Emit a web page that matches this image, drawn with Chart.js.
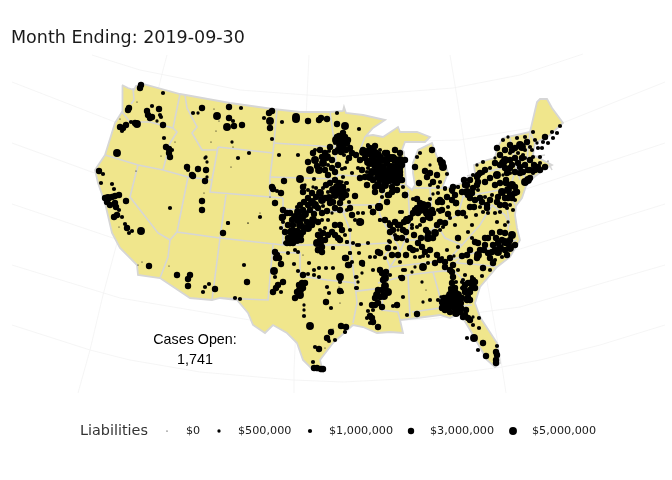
<!DOCTYPE html>
<html lang="en">

<head>
    <meta charset="UTF-8">
    <title>Month Ending: 2019-09-30</title>
    <script src="https://cdn.jsdelivr.net/npm/chart.js"></script>
    <style>
        html,
        body {
            margin: 0;
            padding: 0;
            background-color: #ffffff;
        }

        canvas {
            display: block;
        }
    </style>
</head>

<body>
    <canvas id="map" width="672" height="480"></canvas>

    <script>
        const titleText = 'Month Ending: 2019-09-30';
        const casesLabel = 'Cases Open:';
        const casesValue = '1,741';
        const legendTitle = 'Liabilities';
        const legendLabels = ['$0', '$500,000', '$1,000,000', '$3,000,000', '$5,000,000'];
        const legendValues = [0, 0.5, 1, 3, 5]; // $ millions

        // map units are projected x / y, y growing south
        const usOutline = [[122,85],[128,88],[134,90],[136,86],[143,84],[180,94],[230,103],[273,109],[300,112],[330,112],[343,111],[344,107],[346,113],[363,115],[385,120],[373,128],[366,136],[373,135],[383,137],[398,127],[400,132],[417,132],[430,137],[425,142],[405,142],[402,150],[404,152],[405,168],[406,185],[412,190],[415,185],[413,173],[413,163],[418,150],[432,143],[437,157],[445,163],[448,173],[442,188],[447,188],[463,183],[475,173],[474,165],[487,160],[495,158],[497,148],[503,138],[530,132],[537,102],[540,99],[547,99],[552,108],[563,123],[550,135],[535,143],[533,155],[552,165],[543,170],[527,183],[522,198],[516,206],[515,215],[517,228],[520,240],[510,257],[497,267],[480,287],[475,303],[480,317],[497,343],[500,363],[495,367],[487,360],[473,335],[460,313],[450,318],[440,315],[417,318],[400,320],[403,333],[390,332],[377,333],[363,327],[353,325],[333,343],[320,360],[323,372],[313,370],[303,360],[297,343],[287,333],[273,325],[265,333],[253,325],[248,313],[237,300],[220,298],[212,300],[190,298],[160,278],[138,275],[137,265],[120,248],[112,233],[105,203],[98,183],[95,170],[105,155],[115,123],[122,112],[123,98],[122,85]];

        const stateBorders = [
            [[122,112],[130,122],[150,122],[173,128]],
            [[180,94],[173,128],[177,132],[170,143],[163,170]],
            [[105,155],[138,165],[163,170],[188,177],[205,179],[212,180]],
            [[185,95],[187,108],[197,127],[192,133],[202,150],[218,150]],
            [[218,147],[273,153]],
            [[218,147],[212,180],[210,192],[270,197],[283,198]],
            [[188,177],[177,232],[220,238],[283,245],[350,245],[388,243]],
            [[226,195],[220,238],[212,300]],
            [[138,165],[130,197],[158,233],[170,240],[168,257],[162,273],[160,278]],
            [[177,232],[170,240]],
            [[277,109],[273,153],[270,177],[270,197]],
            [[273,143],[335,147]],
            [[270,177],[337,179]],
            [[283,198],[283,245]],
            [[283,209],[345,212],[340,205],[378,205]],
            [[273,245],[268,300],[220,298]],
            [[273,252],[300,253],[300,275],[307,277],[327,280],[347,282],[355,283],[357,303],[353,323]],
            [[350,245],[355,283],[357,291],[383,288],[382,310],[398,312],[400,320]],
            [[388,243],[390,250],[385,255],[390,267],[385,283],[383,288]],
            [[330,112],[335,147],[337,179],[340,205],[350,230],[350,245]],
            [[337,175],[378,177]],
            [[365,137],[360,150],[368,160],[378,177],[385,190],[378,205],[380,215],[385,225],[398,245],[400,252],[390,267]],
            [[382,183],[405,185]],
            [[408,190],[410,223],[405,240],[400,252]],
            [[413,188],[442,188]],
            [[430,188],[432,217]],
            [[405,240],[420,240],[437,225],[445,238],[462,245],[480,225],[492,205],[505,215],[510,225]],
            [[437,225],[458,215],[463,197],[463,183]],
            [[463,197],[510,188],[515,205]],
            [[467,176],[517,165],[527,180]],
            [[517,165],[510,188]],
            [[390,267],[433,262],[447,261],[517,240]],
            [[447,261],[462,245]],
            [[378,283],[408,275],[433,272],[453,270],[447,271],[470,250]],
            [[408,275],[410,317]],
            [[412,312],[440,308],[472,305]],
            [[433,272],[440,297],[440,308]],
            [[453,270],[472,288],[480,287]],
            [[457,263],[483,265],[497,267]],
            [[470,196],[490,210],[492,205]],
            [[510,138],[515,160],[517,170],[520,180]],
            [[530,132],[528,148],[527,162]],
            [[515,160],[545,155]],
            [[517,170],[540,167]],
            [[530,132],[535,143]],
            [[133,88],[134,100],[131,104]],
            [[507,208],[509,220],[508,230]],
            [[522,182],[535,175]],
            [[548,162],[552,170]]
        ];

        const parallels = [
            [[92,55],[140,70],[240,90],[307,95],[335,97],[453,88],[520,75],[583,54]],
            [[12,82],[115,122],[210,138],[335,143],[460,140],[565,122],[665,82]],
            [[12,143],[100,175],[210,196],[335,203],[430,200],[523,190],[665,143]],
            [[12,204],[113,238],[210,256],[335,262],[430,262],[520,249],[665,204]],
            [[12,265],[120,298],[250,320],[340,323],[430,319],[520,307],[665,265]],
            [[12,325],[90,350],[130,360],[200,372],[293,380],[343,382],[420,378],[502,367],[540,360],[600,345],[665,325]]
        ];

        const meridians = [
            [[78,393],[90,350],[103,295],[117,243],[150,115],[158,90],[163,70],[167,55]],
            [[294,393],[294,370],[300,240],[307,97],[309,55]],
            [[506,393],[502,367],[488,287],[468,168],[455,85],[450,55]]
        ];

        // [x, y, liabilities in $ millions]
        const westCases = [[141,85,3],[140,88,3],[163,93,1],[129,108,3],[128,110,3],[152,106,1],[159,109,3],[147,111,3],[148,115,3],[152,117,3],[150,118,3],[160,115,1],[161,117,1],[157,121,0.5],[137,102,0],[120,119,0],[120,127,3],[123,128,3],[122,131,1],[126,125,3],[131,122,1],[137,124,5],[135,123,3],[163,125,3],[164,138,1],[175,142,0],[166,147,3],[169,149,3],[172,150,1],[169,153,3],[170,157,3],[161,156,0],[117,153,5],[136,171,0],[99,171,3],[103,174,1],[101,183,1],[112,184,1],[114,189,1],[119,195,3],[105,198,3],[108,198,5],[112,197,3],[115,196,3],[107,202,3],[126,201,3],[110,205,3],[115,203,3],[116,207,3],[119,210,1],[117,215,3],[114,217,3],[122,217,1],[119,227,0],[125,224,1],[127,228,3],[132,231,1],[129,233,1],[141,231,5],[142,262,0],[138,265,0],[149,266,3],[169,266,0],[177,275,3],[190,275,3],[188,279,3],[188,286,3],[205,287,1],[209,284,1],[203,292,1],[215,289,3],[235,298,1],[240,299,1],[244,265,1],[247,282,3],[223,233,3],[228,223,1],[248,223,0]];
        const mountainCases = [[193,113,1],[198,113,0.5],[202,108,3],[214,109,0],[229,107,3],[241,108,1],[217,116,5],[219,121,0],[229,118,3],[233,121,1],[227,127,5],[234,126,3],[242,125,3],[216,131,0],[211,142,0],[232,142,0.5],[233,147,0],[264,118,1],[269,113,3],[272,111,3],[270,121,5],[270,128,3],[272,139,1],[282,122,1],[296,117,5],[296,119,5],[308,121,3],[319,120,3],[321,118,3],[327,119,3],[279,155,1],[298,155,1],[238,158,1],[249,153,1],[231,167,0],[205,158,0.5],[206,157,0.5],[207,162,0.5],[187,167,3],[188,170,1],[198,169,3],[206,170,3],[192,175,3],[193,176,3],[207,177,0.5],[205,181,3],[204,193,0],[202,201,3],[202,210,3],[170,208,1],[260,213,0],[260,217,1],[248,223,0],[228,223,1],[272,187,3],[273,189,3],[277,191,1],[281,193,3],[275,203,3],[270,197,0],[283,210,1],[282,218,3],[283,217,3],[287,213,1],[289,213,1]];
        const plainsCases = [[320,150,3],[308,162,3],[315,160,5],[313,153,3],[325,153,3],[329,151,1],[332,160,3],[323,163,5],[327,157,5],[335,143,1],[337,137,3],[342,140,5],[345,137,3],[340,145,5],[347,143,3],[350,148,3],[341,152,3],[344,155,1],[352,153,3],[349,158,3],[347,162,1],[368,145,1],[367,152,5],[363,150,3],[372,155,5],[368,162,5],[377,163,5],[377,152,1],[385,153,3],[380,158,5],[387,160,5],[373,158,3],[393,158,5],[398,162,3],[397,168,5],[390,167,5],[383,168,5],[378,172,5],[385,175,5],[392,173,3],[397,177,3],[380,180,3],[388,180,5],[395,182,3],[373,180,3],[375,187,3],[380,187,1],[368,168,1],[367,172,1],[360,178,3],[365,177,3],[367,185,3],[358,168,1],[388,195,3],[387,202,1],[352,173,1],[342,169,1],[310,170,5],[319,170,5],[328,165,1],[332,168,3],[328,175,3],[335,180,3],[343,177,1],[342,182,0.5],[346,183,1],[300,179,5],[284,181,3],[314,179,1],[303,192,3],[305,185,0.5],[308,190,1],[320,193,5],[313,187,0.5],[323,188,1],[325,198,3],[328,192,1],[337,187,5],[338,192,5],[335,195,5],[342,197,5],[343,187,3],[347,183,1],[333,202,3],[340,203,3],[330,203,3],[308,198,3],[312,202,5],[315,205,5],[308,205,3],[318,208,3],[323,206,1],[327,211,3],[355,196,3],[349,202,1]];
        const plainsFill = [[336,140,5],[339,136,3],[343,133,3],[348,140,3],[338,150,3],[346,150,3],[335,152,3],[330,147,3],[322,157,3],[317,166,3],[315,150,1],[325,170,3],[335,172,3],[338,165,3],[345,168,1],[303,187,3],[312,193,3],[316,188,1],[326,185,3],[330,183,3],[333,190,5],[339,183,3],[343,192,5],[346,195,3],[348,190,1],[340,210,3],[335,208,3],[329,198,5],[322,200,5],[316,197,3],[304,202,3],[300,205,3],[310,210,3],[314,214,3],[305,214,5],[298,220,5],[292,220,3],[288,225,3],[285,232,3],[292,231,5],[300,235,5],[303,232,3],[308,228,5],[312,225,3],[318,222,3],[297,240,5],[290,240,3],[301,240,3],[283,222,1],[325,228,1],[318,235,3],[328,235,3],[335,235,3],[345,235,1]];
        const kansasCases = [[283,210,3],[287,213,3],[282,217,3],[290,213,3],[297,207,1],[298,212,5],[303,210,3],[295,217,5],[302,218,5],[307,222,3],[313,220,5],[300,225,5],[293,225,3],[290,232,3],[297,232,5],[295,237,5],[288,238,3],[293,243,3],[281,228,1],[285,243,1],[303,227,3],[322,213,3],[322,220,1],[328,220,1],[332,213,0.5],[320,230,1],[320,237,3],[323,233,3],[325,240,3],[320,243,5],[318,250,3],[335,225,3],[340,225,3],[342,230,3],[332,232,3],[338,238,3],[350,230,1],[347,242,1],[333,248,1],[350,208,3],[347,210,1],[352,215,3],[360,222,5],[355,220,1],[370,207,1],[373,212,3],[379,207,5],[380,220,1],[385,219,1],[389,222,1],[390,242,1],[398,230,0.5],[353,243,1],[359,245,1],[368,243,1],[378,252,3],[395,248,1],[287,243,3],[290,243,3],[293,235,5],[297,232,5],[307,228,3],[317,243,5],[322,247,3],[322,252,3],[318,250,3],[333,248,1],[340,240,3],[347,242,1],[357,245,1]];
        const lakesCases = [[337,113,1],[337,124,3],[345,126,5],[359,129,1],[340,138,3],[345,140,3],[343,147,5],[368,146,1],[363,152,5],[368,153,5],[375,152,3],[380,150,1],[387,153,3],[400,153,3],[395,160,5],[400,160,5],[380,160,5],[370,163,5],[377,168,5],[382,167,5],[387,163,3],[393,167,5],[400,168,3],[395,172,5],[380,175,5],[385,180,5],[390,180,5],[402,180,3],[397,183,3],[397,190,3],[405,195,3],[389,195,3],[387,202,3],[379,207,5],[370,207,1],[373,212,3],[402,212,1],[363,213,1],[358,213,1],[361,222,3],[380,220,1],[385,220,3],[390,225,3],[393,230,3],[398,225,3],[407,220,5],[412,228,1],[395,235,1],[403,230,3],[407,240,1],[389,241,1],[432,150,3],[420,153,1],[417,157,1],[430,165,0.5],[442,163,5],[443,167,5],[440,160,3],[415,167,3],[425,171,3],[430,173,3],[447,174,1],[437,175,3],[427,177,3],[440,182,1],[433,182,3],[419,183,3],[430,185,1],[438,187,1],[445,189,1],[453,187,3],[458,187,1],[467,192,5],[465,185,3],[452,192,1],[456,203,3],[440,200,3],[438,210,1],[423,207,5],[420,210,5],[427,213,5],[417,208,3],[413,213,3]];
        const lakesFill = [[370,148,3],[375,146,3],[372,160,5],[375,165,5],[365,158,3],[360,160,3],[356,155,3],[362,170,3],[372,172,5],[370,177,5],[378,177,5],[383,175,5],[388,172,5],[392,177,5],[385,185,5],[392,187,3],[400,172,3],[402,165,3],[405,160,3],[400,175,3],[395,150,3],[390,158,5],[385,160,5],[378,155,5],[372,150,3],[403,187,1],[382,190,3],[375,192,3],[382,197,1],[392,192,3],[378,185,5]];
        const midlandCases = [[400,180,3],[405,195,3],[417,199,3],[413,199,1],[430,199,1],[415,210,3],[423,205,5],[425,210,5],[422,208,3],[432,210,3],[407,220,5],[400,212,1],[420,225,1],[430,218,3],[423,220,3],[412,225,1],[417,227,1],[437,225,3],[445,223,3],[443,227,1],[440,230,1],[438,202,3],[442,202,3],[442,210,3],[440,212,1],[456,203,3],[433,194,0.5],[438,193,1],[452,190,3],[445,188,1],[458,187,1],[467,185,3],[467,192,3],[473,188,3],[477,185,3],[458,213,3],[463,213,3],[466,217,1],[472,225,1],[478,190,1],[470,198,3],[475,200,3],[480,198,3],[485,197,1],[492,195,1],[497,202,3],[498,197,3],[502,192,5],[508,190,5],[512,185,5],[505,198,3],[508,198,3],[487,205,3],[487,208,3],[483,212,1],[488,213,1],[495,213,1],[497,222,1],[508,222,0.5],[513,210,1],[507,208,1],[510,205,1],[515,200,1],[513,193,1],[495,185,3],[478,175,3],[483,173,1],[478,182,3],[495,175,1],[503,175,0.5]];
        const midlandFill = [[420,203,3],[418,213,3],[428,205,3],[433,213,3],[428,217,3],[410,218,3],[404,222,3],[412,215,1],[400,225,3],[395,222,3],[390,232,3],[397,238,3],[406,232,3],[414,235,3],[421,238,3],[426,230,3],[433,238,3],[440,222,3],[450,218,1],[448,207,1],[447,197,3],[455,195,3],[462,192,3],[472,193,3],[482,202,3],[490,200,3],[500,205,3],[505,205,3],[510,195,3],[515,187,3],[506,183,3],[500,183,3],[490,178,3],[485,182,3],[470,180,3],[464,180,3],[505,168,3],[512,165,3],[515,158,3],[515,148,3],[510,145,3],[522,158,3],[528,170,3],[534,165,3],[540,163,1],[525,150,1],[530,147,1],[468,195,3],[474,207,3],[480,207,1],[470,207,3],[476,215,1],[452,200,3],[448,214,3],[455,225,1],[468,232,1],[500,212,1],[505,225,1],[430,250,3],[425,252,3],[410,248,3],[406,255,3],[400,262,1],[392,255,3],[388,248,3]];
        const northeastCases = [[477,177,3],[473,175,1],[480,173,3],[497,175,5],[507,173,3],[503,163,5],[500,165,3],[495,163,3],[505,160,5],[510,160,3],[497,148,3],[503,140,1],[508,137,0.5],[517,138,1],[525,137,1],[518,153,1],[520,145,5],[522,147,5],[510,153,1],[533,132,1],[527,142,3],[523,155,1],[533,157,1],[538,148,1],[540,157,1],[537,143,0.5],[545,137,3],[553,138,1],[557,133,1],[560,126,1],[552,132,1],[543,142,1],[542,148,1],[530,160,3],[525,165,3],[520,167,3],[520,173,3],[523,172,3],[538,167,3],[545,167,3],[548,161,0],[533,173,1],[528,180,5],[525,182,5],[530,178,3],[483,162,1],[495,158,0.5],[510,173,1],[477,165,0.5],[510,185,3],[515,193,3],[517,192,3],[512,198,3],[502,192,3],[512,150,3],[505,150,3],[500,155,3],[510,168,3],[515,172,3],[525,158,1],[532,150,1],[535,140,1],[548,143,1],[530,170,3],[535,170,3],[540,170,3],[518,163,3],[506,180,3],[485,170,3],[490,168,1]];
        const southeastCases = [[458,238,3],[458,247,1],[472,238,1],[475,242,3],[478,243,3],[492,233,3],[485,238,3],[488,238,3],[512,235,5],[505,242,5],[510,248,5],[502,240,3],[495,250,3],[500,248,5],[492,252,3],[488,253,3],[478,255,5],[477,258,3],[467,255,3],[462,256,3],[495,260,1],[490,258,3],[493,263,3],[502,257,1],[463,280,1],[454,256,0.5],[447,250,1],[442,258,1],[437,255,3],[440,260,3],[418,243,3],[422,247,3],[413,250,3],[417,250,1],[428,238,5],[435,233,5],[428,233,3],[407,241,1],[402,238,3],[398,225,3],[415,257,1],[423,256,1],[428,256,1],[420,257,1],[415,267,0.5],[423,267,5],[428,263,1],[435,263,3],[445,267,3],[453,265,3],[458,270,1],[450,270,3],[453,277,3],[465,275,1],[472,277,1],[470,283,3],[475,282,3],[483,268,3],[490,270,1],[482,276,1],[465,285,3],[475,288,3],[462,288,1],[470,292,3],[402,278,3],[405,270,1],[426,290,0],[398,255,3],[505,250,3],[498,252,5],[508,243,5],[498,243,3],[493,245,3],[480,250,3],[484,250,3],[470,262,3],[452,272,3],[456,282,1],[500,232,3],[496,238,3],[505,233,3],[510,240,3],[515,245,3],[507,255,3],[485,245,3],[470,250,3],[450,258,3],[445,262,3]];
        const deltaCases = [[345,258,3],[350,253,1],[359,253,1],[348,265,3],[352,262,1],[362,263,3],[363,265,1],[373,270,1],[380,253,3],[370,257,1],[375,257,1],[385,258,1],[380,270,3],[382,273,3],[385,278,5],[390,275,1],[403,270,1],[400,277,1],[412,272,0.5],[357,277,0.5],[362,273,0.5],[356,288,1],[358,282,0.5],[340,278,3],[342,292,1],[388,292,5],[382,290,3],[377,295,5],[375,298,3],[380,297,3],[378,303,3],[382,307,3],[397,305,3],[393,306,1],[403,297,1],[373,310,1],[361,304,1],[368,311,1],[367,318,1],[372,318,3],[370,323,1],[373,322,3],[378,327,3],[343,327,1],[345,332,0.5],[407,315,1],[417,314,3],[422,282,0.5],[430,300,1],[423,302,0.5],[441,297,0.5],[384,296,5],[385,286,5],[378,290,3],[383,280,3],[386,272,3],[372,305,3],[375,305,3],[370,316,3]];
        const georgiaCases = [[455,293,5],[452,298,5],[457,300,5],[450,295,5],[447,302,5],[443,305,3],[442,308,3],[448,308,5],[445,310,3],[455,307,5],[458,307,3],[460,312,3],[463,317,3],[465,315,3],[467,300,3],[468,297,3],[470,290,3],[468,283,3],[473,280,3],[450,288,1],[455,288,3],[462,303,1],[473,317,0.5],[442,302,3],[453,277,1],[462,282,1],[479,318,1],[473,325,1],[479,328,1],[467,338,1],[474,338,5],[483,343,3],[478,350,1],[486,356,3],[497,346,1],[496,352,3],[497,355,3],[496,360,3],[496,363,3],[452,290,5],[448,298,5],[453,303,5],[458,295,5],[460,303,5],[462,298,3],[450,305,5],[446,305,5],[450,312,3],[456,313,5],[461,308,3],[466,310,3],[470,300,3],[465,292,3],[472,285,3],[464,288,3],[470,320,3],[468,318,3],[444,298,3],[438,300,1],[452,283,3]];
        const texasCases = [[277,255,3],[279,258,3],[274,271,5],[275,277,1],[281,264,3],[288,253,1],[295,250,1],[298,252,1],[294,264,1],[303,255,0],[298,271,1],[303,275,3],[308,274,1],[309,263,1],[314,270,1],[319,268,1],[319,277,1],[326,268,1],[333,268,1],[314,275,1],[346,258,3],[350,253,1],[349,265,3],[340,277,5],[340,282,1],[356,277,1],[357,288,1],[340,291,3],[339,287,0],[327,287,1],[329,293,1],[326,302,3],[331,308,1],[340,303,0],[283,282,3],[278,285,3],[276,288,3],[273,292,3],[281,292,1],[305,283,3],[302,283,3],[300,290,5],[297,292,3],[300,295,5],[304,305,0.5],[304,310,0.5],[304,316,1],[310,326,5],[331,332,3],[333,329,0],[327,338,3],[329,341,1],[335,340,1],[341,326,3],[346,327,3],[345,332,1],[315,347,1],[319,349,3],[325,348,0],[313,362,1],[314,368,3],[317,368,3],[321,369,3],[323,369,3],[299,285,3],[303,288,3],[295,298,3],[275,252,3],[276,258,3]];

        const allCases = [...westCases, ...mountainCases, ...plainsCases, ...plainsFill, ...kansasCases, ...lakesCases, ...lakesFill, ...midlandCases, ...midlandFill, ...northeastCases, ...southeastCases, ...deltaCases, ...georgiaCases, ...texasCases];

        const legendDotX = [167, 219, 310, 411, 513];
        const legendLabelX = [186, 238, 329, 430, 532];
        const legendY = 431;

        function toPoints(list) {
            return list.map(p => ({ x: p[0], y: p[1], v: p[2] }));
        }

        function sizeFor(millions) {
            return 0.6 + 1.5 * Math.sqrt(millions);
        }

        function lineSet(list, color, width, order) {
            return {
                data: toPoints(list),
                showLine: true,
                borderColor: color,
                borderWidth: width,
                pointRadius: 0,
                tension: 0,
                clip: false,
                order: order
            };
        }

        const datasets = [];
        datasets.push({
            data: toPoints(allCases),
            backgroundColor: '#000000',
            borderWidth: 0,
            pointRadius: ctx => sizeFor(ctx.raw.v),
            clip: false,
            order: 0
        });
        datasets.push({
            data: legendValues.map((v, i) => ({ x: legendDotX[i], y: legendY, v: v })),
            backgroundColor: '#000000',
            borderWidth: 0,
            pointRadius: ctx => sizeFor(ctx.raw.v),
            clip: false,
            order: 0
        });
        stateBorders.forEach(b => datasets.push(lineSet(b, '#d6d6d6', 1.6, 1)));
        datasets.push(Object.assign(lineSet(usOutline, '#d6d6d6', 1.8, 2), {
            fill: 'shape',
            backgroundColor: '#f0e68c'
        }));
        parallels.forEach(l => datasets.push(lineSet(l, '#f0f0f0', 0.7, 3)));
        meridians.forEach(l => datasets.push(lineSet(l, '#f0f0f0', 0.7, 3)));

        const textPlugin = {
            id: 'mapText',
            afterDraw(chart) {
                const { ctx, scales } = chart;
                const put = (text, x, y, font, color, align) => {
                    ctx.font = font;
                    ctx.fillStyle = color;
                    ctx.textAlign = align;
                    ctx.textBaseline = 'middle';
                    ctx.fillText(text, scales.x.getPixelForValue(x), scales.y.getPixelForValue(y));
                };
                ctx.save();
                put(titleText, 11, 38, '17.5px "DejaVu Sans"', '#1a1a1a', 'left');
                put(casesLabel, 195, 340, '14.3px "Liberation Sans"', '#000000', 'center');
                put(casesValue, 195, 360, '14.3px "Liberation Sans"', '#000000', 'center');
                put(legendTitle, 80, legendY, '14.4px "DejaVu Sans"', '#333333', 'left');
                legendLabels.forEach((t, i) => {
                    put(t, legendLabelX[i], legendY, '11.2px "DejaVu Sans"', '#1a1a1a', 'left');
                });
                ctx.restore();
            }
        };

        new Chart(document.getElementById('map'), {
            type: 'scatter',
            data: { datasets: datasets },
            plugins: [textPlugin],
            options: {
                responsive: false,
                animation: false,
                events: [],
                layout: { padding: 0, autoPadding: false },
                scales: {
                    x: { type: 'linear', min: 0, max: 672, display: false },
                    y: { type: 'linear', min: 0, max: 480, reverse: true, display: false }
                },
                plugins: {
                    legend: { display: false },
                    tooltip: { enabled: false },
                    title: { display: false }
                }
            }
        });
    </script>
</body>

</html>
